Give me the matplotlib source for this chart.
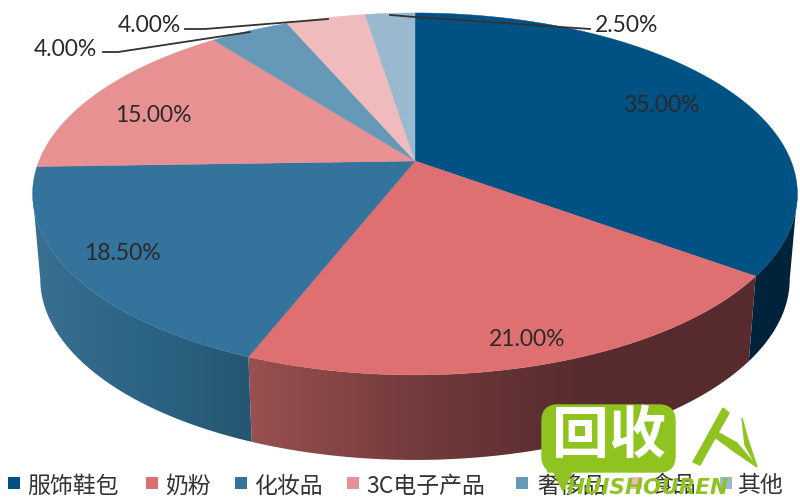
import numpy as np
import matplotlib.pyplot as plt
from matplotlib.patches import FancyBboxPatch, Polygon
from matplotlib.colors import LinearSegmentedColormap

plt.rcParams['font.family'] = ['Noto Sans CJK SC', 'DejaVu Sans']

categories = ['服饰鞋包', '奶粉', '化妆品', '3C电子产品', '奢侈品', '食品', '其他']
values = [35.0, 21.0, 18.5, 15.0, 4.0, 4.0, 2.5]
colors = ['#005285', '#df7071', '#33739c', '#e79193', '#6699b8', '#f0bbbd', '#99b9cf']

CX, CY = 415, 161
RX, RY = 376, 175
PERSP = 0.182
DEPTH = 85
BOTTOM_SCALE = 0.98


def project(theta):
    # 圆盘透视投影, theta 从正上方顺时针, 单位弧度
    x = np.sin(theta)
    y = np.cos(theta)
    d = 1 + PERSP * y
    return CX + RX * x / d, CY - RY * y / d


def bottom(px, py):
    return CX + (px - CX) * BOTTOM_SCALE, py + DEPTH


def side_gradient(ax, t0, t1, grad):
    t = np.linspace(t0, t1, 200)
    px, py = project(t)
    bx, by = bottom(px, py)
    pts = np.vstack([np.column_stack([px, py]), np.column_stack([bx, by])[::-1]])
    x0, x1 = pts[:, 0].min(), pts[:, 0].max()
    y0, y1 = pts[:, 1].min(), pts[:, 1].max()
    cmap = LinearSegmentedColormap.from_list('side', grad)
    im = ax.imshow(np.linspace(0, 1, 256).reshape(1, -1), cmap=cmap, aspect='auto',
                   extent=(x0, x1, y1, y0), zorder=1, interpolation='bilinear')
    poly = Polygon(pts, transform=ax.transData, fc='none', ec='none')
    ax.add_patch(poly)
    im.set_clip_path(poly)


fig = plt.figure(figsize=(8, 5), dpi=100)
ax = fig.add_axes([0, 0, 1, 1])

edges = np.cumsum([0] + values) / 100 * 2 * np.pi

# 侧面的可见范围: 左右两端取轮廓最外侧的点
tt = np.linspace(0, 2 * np.pi, 3600)
xx, _ = project(tt)
t_right = tt[np.argmax(xx)]
t_left = tt[np.argmin(xx)]

side_gradient(ax, t_right, edges[1], ['#00233c', '#00233c'])
side_gradient(ax, edges[1], edges[2], ['#9a5051', '#723b3c', '#572b2d', '#572b2d'])
side_gradient(ax, edges[2], t_left, ['#3a6f90', '#2c6484', '#255672'])

# 顶面
for i, c in enumerate(colors):
    t = np.linspace(edges[i], edges[i + 1], 120)
    px, py = project(t)
    ax.fill(np.r_[CX, px], np.r_[CY, py], color=c, lw=0.3, zorder=2)

# 数据标签
label_xy = [(661, 106), (527, 340), (122, 253), (153, 115), (65, 50), (149, 25), (627, 26)]
for v, (lx, ly) in zip(values, label_xy):
    ax.text(lx, ly, f'{v:.2f}%', ha='center', va='center', fontsize=16.5,
            family=['Lato', 'DejaVu Sans'], color='#2a2a2a', zorder=5)

# 引导线
ax.plot([103, 118, 250], [52, 52, 32], color='#333333', lw=1.3, zorder=4)
ax.plot([185, 205, 328], [29, 29, 19], color='#333333', lw=1.3, zorder=4)
ax.plot([390, 415, 590], [15, 17, 29], color='#333333', lw=1.3, zorder=4)

# 图例
marker_x = [14, 152, 241, 353, 522, 636, 726]
label_x = [27, 165, 254, 366, 537, 650, 738]
for mx, tx, name, c in zip(marker_x, label_x, categories, colors):
    ax.scatter([mx], [483], marker='s', s=75, color=c, lw=0, zorder=3)
    ax.text(tx, 486, name, ha='left', va='center', fontsize=16.5, color='#333333', zorder=3)

# 水印
green = '#8fc31f'
ax.add_patch(FancyBboxPatch((542, 405), 133, 67, boxstyle='round,pad=0,rounding_size=16',
                            fc=green, ec=green, zorder=6))
ax.fill([543, 548, 572, 563], [450, 472, 472, 491], color=green, zorder=6)
ax.text(609, 436, '回收', ha='center', va='center', fontsize=41, fontweight='bold',
        color='white', zorder=7)
ax.fill([723, 729, 700, 693], [408, 413, 465, 462], color=green, zorder=7)
ax.fill([717, 737, 757, 735, 716], [432, 443, 467, 452, 438], color=green, zorder=7)
ax.fill([742, 748, 757, 745], [418, 440, 467, 445], color=green, zorder=7)
ax.text(648, 488, 'HUISHOUREN', ha='center', va='center', fontsize=15.5, fontweight='bold',
        style='italic', family='DejaVu Sans', color=green, zorder=8)

ax.set_xlim(0, 800)
ax.set_ylim(500, 0)
ax.axis('off')
fig.savefig('out.png', dpi=100)
